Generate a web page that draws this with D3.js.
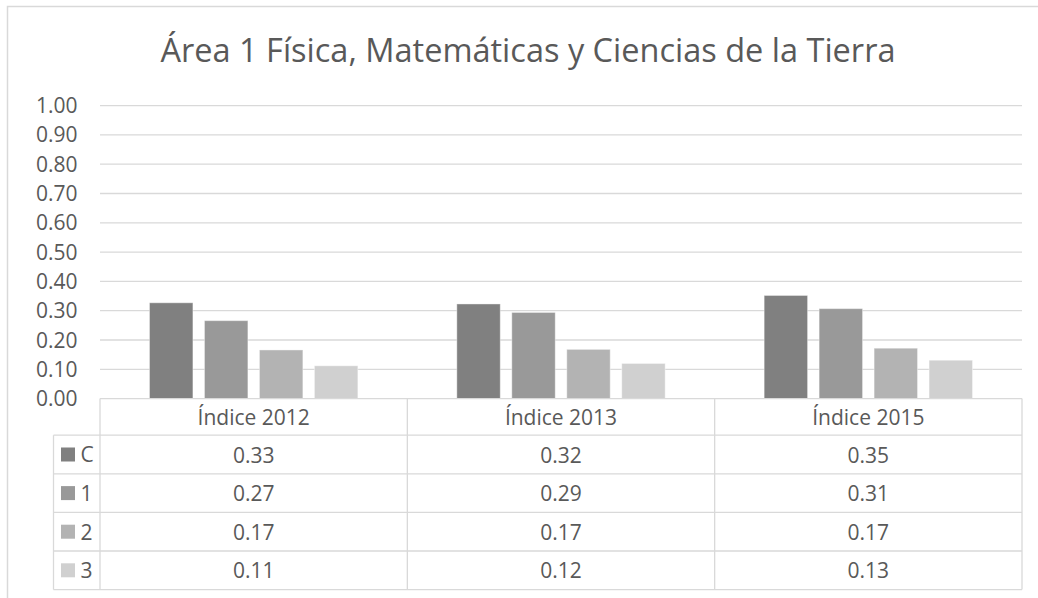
<!DOCTYPE html>
<html>
<head>
<meta charset="utf-8">
<script src="https://cdn.jsdelivr.net/npm/d3@7"></script>
<style>
  body { margin: 0; background: #fff; }
  text { font-family: "Open Sans", sans-serif; fill: #595959; }
</style>
</head>
<body>
<svg id="chart" width="1038" height="598"></svg>
<script>
const title = "Área 1 Física, Matemáticas y Ciencias de la Tierra";
const categories = ["Índice 2012", "Índice 2013", "Índice 2015"];
const series = ["C", "1", "2", "3"];
const colors = ["#808080", "#999999", "#b3b3b3", "#d0d0d0"];
// one array per series, values per category
const valuesC = [0.327, 0.323, 0.352];
const values1 = [0.266, 0.294, 0.307];
const values2 = [0.166, 0.168, 0.172];
const values3 = [0.112, 0.120, 0.131];
const yTicks = [0, 0.1, 0.2, 0.3, 0.4, 0.5, 0.6, 0.7, 0.8, 0.9, 1.0];

const allValues = [valuesC, values1, values2, values3];

const svg = d3.select("#chart");
const grid = "#d9d9d9";

// chart border (extends past the right and bottom edges)
svg.append("rect")
    .attr("x", 7.5).attr("y", 6.5)
    .attr("width", 1060).attr("height", 620)
    .attr("fill", "none").attr("stroke", grid).attr("stroke-width", 1.5);

svg.append("text")
    .attr("x", 528).attr("y", 62)
    .attr("text-anchor", "middle")
    .style("font-size", "32.5px")
    .text(title);

const left = 100, right = 1022;
const y = d3.scaleLinear().domain([0, 1]).range([398.6, 105.6]);
const x0 = d3.scaleBand().domain(categories).range([left, right]);
const x1 = d3.scaleBand().domain(series).range([0, x0.bandwidth()])
    .paddingInner(0.21).paddingOuter(0.9);

// gridlines
svg.append("g").selectAll("line")
    .data(yTicks.slice(1))
    .join("line")
    .attr("x1", left).attr("x2", right)
    .attr("y1", d => y(d)).attr("y2", d => y(d))
    .attr("stroke", grid).attr("stroke-width", 1.3);

// y axis labels
svg.append("g").selectAll("text")
    .data(yTicks)
    .join("text")
    .attr("x", 77.5)
    .attr("y", d => y(d) + 7.5)
    .attr("text-anchor", "end")
    .style("font-size", "21px")
    .text(d3.format(".2f"));

// bars
const groups = svg.append("g").selectAll("g")
    .data(categories)
    .join("g")
    .attr("transform", d => `translate(${x0(d)},0)`);

groups.selectAll("rect")
    .data((d, ci) => series.map((s, si) => ({s, si, v: allValues[si][ci]})))
    .join("rect")
    .attr("x", d => x1(d.s))
    .attr("width", x1.bandwidth())
    .attr("y", d => y(d.v))
    .attr("height", d => y(0) - y(d.v))
    .attr("fill", d => colors[d.si])
    .attr("stroke", "#ffffff").attr("stroke-opacity", 0.4).attr("stroke-width", 1);

// data table
const rowTop = 398.6, headH = 36.6, rowH = 38.6, legL = 53.5;
const rowY = i => rowTop + headH + i * rowH;
const tableBottom = rowY(series.length);
const table = svg.append("g").attr("stroke", grid).attr("stroke-width", 1.3);

table.append("line").attr("x1", left).attr("x2", right)
    .attr("y1", rowTop).attr("y2", rowTop);
d3.range(series.length + 1).forEach(i => {
    table.append("line").attr("x1", legL).attr("x2", right)
        .attr("y1", rowY(i)).attr("y2", rowY(i));
});
table.append("line").attr("x1", legL).attr("x2", legL)
    .attr("y1", rowY(0)).attr("y2", tableBottom);
[left, ...categories.map(c => x0(c) + x0.bandwidth())].forEach(xv => {
    table.append("line").attr("x1", xv).attr("x2", xv)
        .attr("y1", rowTop).attr("y2", tableBottom);
});

// header labels
svg.append("g").selectAll("text")
    .data(categories)
    .join("text")
    .attr("x", d => x0(d) + x0.bandwidth() / 2)
    .attr("y", rowTop + headH / 2 + 8)
    .attr("text-anchor", "middle")
    .style("font-size", "21px")
    .text(d => d);

// legend column
const leg = svg.append("g").selectAll("g")
    .data(series)
    .join("g")
    .attr("transform", (d, i) => `translate(0,${rowY(i)})`);
leg.append("rect")
    .attr("x", 61).attr("y", rowH / 2 - 7)
    .attr("width", 14).attr("height", 14)
    .attr("fill", (d, i) => colors[i]);
leg.append("text")
    .attr("x", 80.5).attr("y", rowH / 2 + 8)
    .style("font-size", "21px")
    .text(d => d);

// values
series.forEach((s, si) => {
    svg.append("g").selectAll("text")
        .data(categories)
        .join("text")
        .attr("x", d => x0(d) + x0.bandwidth() / 2)
        .attr("y", rowY(si) + rowH / 2 + 8)
        .attr("text-anchor", "middle")
        .style("font-size", "21px")
        .text((d, ci) => d3.format(".2f")(allValues[si][ci]));
});
</script>
</body>
</html>
